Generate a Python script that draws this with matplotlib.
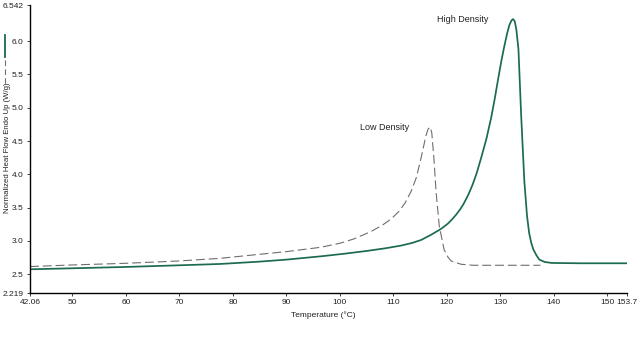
import matplotlib
matplotlib.use("Agg")
import matplotlib.pyplot as plt
from matplotlib.lines import Line2D

# ---- data ----
high_T = [42.06, 50, 60, 70, 77.7, 85, 90, 96.5, 101, 105, 108.5, 111.4, 113.5, 115.2, 117,
          118.9, 120.2, 121.0, 121.8, 122.5, 123.1, 124.0, 124.8, 125.6, 126.4, 127.4, 128.3, 129.0,
          129.6, 130.2, 130.8, 131.3, 131.7, 132.1, 132.4, 132.7, 133.0, 133.4, 133.9, 134.5,
          135.0, 135.4, 135.8, 136.2, 136.8, 137.3, 138.3, 139.6, 145, 153.7]
high_Q = [2.575, 2.59, 2.61, 2.635, 2.655, 2.69, 2.72, 2.77, 2.81, 2.85, 2.89, 2.93, 2.97, 3.015, 3.09,
          3.18, 3.26, 3.325, 3.40, 3.475, 3.55, 3.69, 3.84, 4.02, 4.24, 4.53, 4.85, 5.15,
          5.43, 5.70, 5.94, 6.12, 6.24, 6.31, 6.33, 6.30, 6.18, 5.88, 4.90, 3.90,
          3.38, 3.12, 2.97, 2.87, 2.78, 2.72, 2.685, 2.67, 2.665, 2.665]

low_T = [42.06, 50, 60, 70, 77.7, 85, 90, 96.4, 100, 102.6, 105.8, 108.0, 109.6, 111.0, 112.2,
         113.3, 114.3, 115.2, 116.1, 116.5, 116.9, 117.2, 117.6, 118.0, 118.6, 119.5, 120.2,
         120.8, 122.7, 125, 137.5]
low_Q = [2.616, 2.64, 2.665, 2.70, 2.74, 2.80, 2.84, 2.905, 2.965, 3.03, 3.14, 3.24, 3.33, 3.44, 3.57,
         3.74, 3.95, 4.25, 4.58, 4.68, 4.71, 4.62, 4.23, 3.73, 3.22, 2.87, 2.76,
         2.70, 2.65, 2.635, 2.635]

x_ticks = [42.06, 50, 60, 70, 80, 90, 100, 110, 120, 130, 140, 150, 153.7]
x_tick_labels = ["42.06", "50", "60", "70", "80", "90", "100", "110", "120", "130", "140", "150", "153.7"]
y_ticks = [2.219, 2.5, 3.0, 3.5, 4.0, 4.5, 5.0, 5.5, 6.0, 6.542]
y_tick_labels = ["2.219", "2.5", "3.0", "3.5", "4.0", "4.5", "5.0", "5.5", "6.0", "6.542"]

GREEN = "#1b6b4c"
GREY = "#6e6e6e"

plt.rcParams['font.family'] = ['Liberation Sans', 'DejaVu Sans']

fig = plt.figure(figsize=(6.4, 3.39), dpi=100)
ax = fig.add_axes([30/640, 1-293/339, (627-30)/640, (293-5)/339])

ax.plot(high_T, high_Q, color=GREEN, lw=1.25, solid_joinstyle='round')
ax.plot(low_T, low_Q, color=GREY, lw=0.8, dashes=(8, 3.5), dash_joinstyle='round')

ax.set_xlim(42.06, 153.7)
ax.set_ylim(2.219, 6.542)
ax.set_xticks(x_ticks)
ax.set_xticklabels(x_tick_labels)
ax.set_yticks(y_ticks)
ax.set_yticklabels(y_tick_labels)
ax.tick_params(labelsize=6, length=2.5, width=0.6, pad=2, colors='#222222')
for s in ['top', 'right']:
    ax.spines[s].set_visible(False)
for s in ['left', 'bottom']:
    ax.spines[s].set_linewidth(1.0)
    ax.spines[s].set_color('black')

ax.text(127.75, 6.32, "High Density", fontsize=6.5, ha='right', va='center', color='#222222')
ax.text(112.9, 4.70, "Low Density", fontsize=6.5, ha='right', va='center', color='#222222')

fig.text(323/640, 1-315/339, "Temperature (°C)", fontsize=6, ha='center', va='center', color='#222222')
fig.text(8/640, 1-148/339, "Normalized Heat Flow Endo Up (W/g)", fontsize=5.6, rotation=90,
         ha='center', va='center', color='#222222')

fig.add_artist(Line2D([5/640, 5/640], [1-35/339, 1-57/339], color=GREEN, lw=1.3))
fig.add_artist(Line2D([5/640, 5/640], [1-60/339, 1-85/339], color=GREY, lw=0.8, dashes=(5, 3)))

fig.savefig("out.png", dpi=100)
